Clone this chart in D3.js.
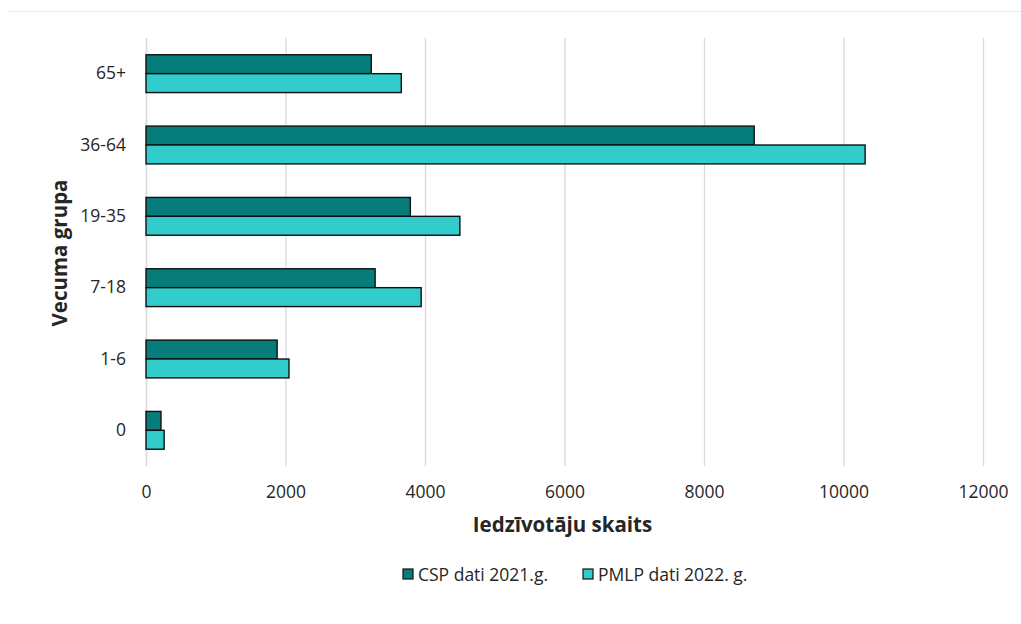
<!DOCTYPE html>
<html><head><meta charset="utf-8">
<script src="https://cdn.jsdelivr.net/npm/d3@7"></script>
<style>body{margin:0;background:#fff}svg{display:block}text{font-family:"Open Sans",sans-serif;fill:#262626}</style>
</head><body><svg id="c" width="1021" height="624"></svg>
<script>
const categories = ["65+", "36-64", "19-35", "7-18", "1-6", "0"];
const seriesNames = ["CSP dati 2021.g.", "PMLP dati 2022. g."];
const cspValues = [3230, 8720, 3790, 3285, 1880, 215];
const pmlpValues = [3660, 10310, 4500, 3945, 2050, 260];
const xTicks = [0, 2000, 4000, 6000, 8000, 10000, 12000];
const colors = ["#077d7b", "#33cccc"];

const svg = d3.select("#c");
const m = {left:146, right:983, top:38, bottom:466};
const x = d3.scaleLinear().domain([0,12000]).range([m.left, m.right]);
const y = d3.scaleBand().domain(categories).range([m.top, m.bottom]).paddingInner(0.47).paddingOuter(0.235);
const y1 = d3.scaleBand().domain(seriesNames).range([0, y.bandwidth()]);

svg.append("line").attr("x1",8).attr("x2",1021).attr("y1",11.5).attr("y2",11.5).attr("stroke","#ececec").attr("stroke-width",1);

const xAxis = d3.axisBottom(x).tickValues(xTicks).tickSize(-(m.bottom-m.top)).tickPadding(20).tickFormat(d3.format("d"));
const gx = svg.append("g").attr("transform",`translate(0,${m.bottom})`).call(xAxis);
gx.select(".domain").remove();
gx.selectAll(".tick line").attr("stroke","#d9d9d9").attr("stroke-width",1.3);
gx.selectAll(".tick text").style("font-size","17.5px").attr("fill","#262626");

const yAxis = d3.axisLeft(y).tickSize(0).tickPadding(20);
const gy = svg.append("g").attr("transform",`translate(${m.left},0)`).call(yAxis);
gy.select(".domain").attr("stroke","#d9d9d9").attr("stroke-width",1.3);
gy.selectAll(".tick text").style("font-size","17.5px").attr("fill","#262626");

const data = categories.map((c,i)=>({cat:c, vals:[cspValues[i], pmlpValues[i]]}));
const g = svg.append("g");
data.forEach(d=>{
  d.vals.forEach((v,j)=>{
    g.append("rect")
      .attr("x", x(0))
      .attr("y", y(d.cat)+y1(seriesNames[j]))
      .attr("width", x(v)-x(0))
      .attr("height", y1.bandwidth())
      .attr("fill", colors[j])
      .attr("stroke","#111")
      .attr("stroke-width",1.4);
  });
});

svg.append("text").attr("x",(m.left+m.right)/2-2).attr("y",532).attr("text-anchor","middle")
  .style("font-size","20.5px").style("font-weight","bold").attr("fill","#111").text("Iedzīvotāju skaits");
svg.append("text").attr("transform",`translate(67,${(m.top+m.bottom)/2+1}) rotate(-90)`).attr("text-anchor","middle")
  .style("font-size","20.5px").style("font-weight","bold").attr("fill","#111").text("Vecuma grupa");

const leg = svg.append("g");
const legX = [403, 583];
seriesNames.forEach((s,j)=>{
  leg.append("rect").attr("x",legX[j]).attr("y",569).attr("width",10).attr("height",10)
    .attr("fill",colors[j]).attr("stroke","#111").attr("stroke-width",1.2);
  leg.append("text").attr("x",legX[j]+15).attr("y",581).style("font-size","17.5px").attr("fill","#262626").text(s);
});
</script></body></html>
